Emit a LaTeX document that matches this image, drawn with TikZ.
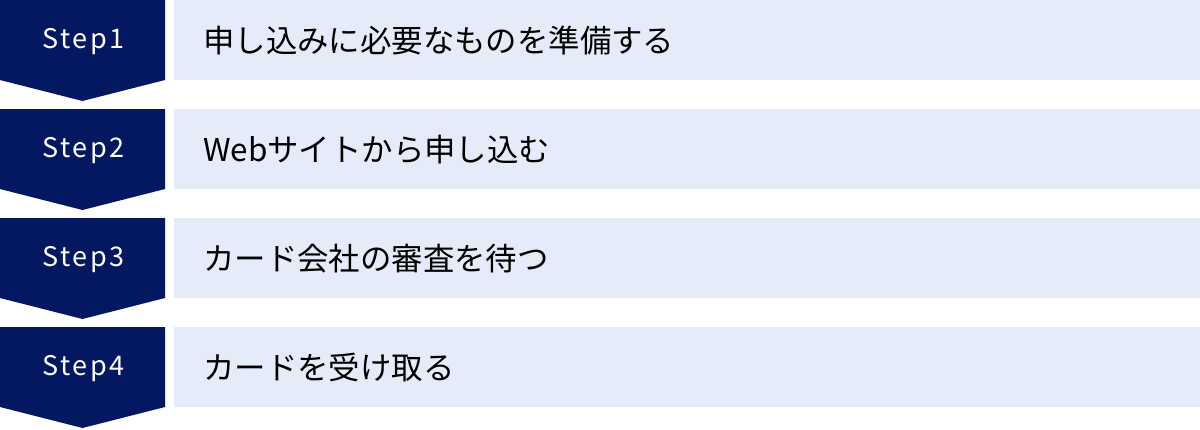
\documentclass[tikz,border=0pt]{standalone}
\usepackage{fontspec}
\newfontfamily\jp{Noto Sans CJK JP}
\newfontfamily\stepfont[LetterSpace=9]{Noto Sans CJK JP}
\definecolor{navy}{HTML}{041862}
\definecolor{pale}{HTML}{E5EBF9}
\tikzset{
  stepshape/.style={fill=navy, draw=none},
  barshape/.style={fill=pale, draw=none},
  steplabel/.style={text=white, inner sep=0pt, font=\stepfont\fontsize{27}{27}\selectfont},
  barlabel/.style={text=black, anchor=west, inner sep=0pt, font=\jp\fontsize{31.4}{31.4}\selectfont},
}
\begin{document}
\begin{tikzpicture}[x=1pt,y=-1pt]
\useasboundingbox (0,0) rectangle (1200,429);
\foreach \i/\t in {0/申し込みに必要なものを準備する, 1/Webサイトから申し込む, 2/カード会社の審査を待つ, 3/カードを受け取る}{
  \pgfmathsetmacro{\top}{109*\i}
  \fill[stepshape] (0,\top) -- (165,\top) -- (165,\top+80) -- (82.5,\top+101) -- (0,\top+80) -- cycle;
  \fill[barshape] (174,\top) rectangle (1200,\top+80);
  \pgfmathtruncatemacro{\n}{\i+1}
  \node[steplabel] (s\n) at (83.5,\top+42) {Step\n};
  \node[barlabel] (b\n) at (203,\top+40.5) {\t};
}
\end{tikzpicture}
\end{document}
